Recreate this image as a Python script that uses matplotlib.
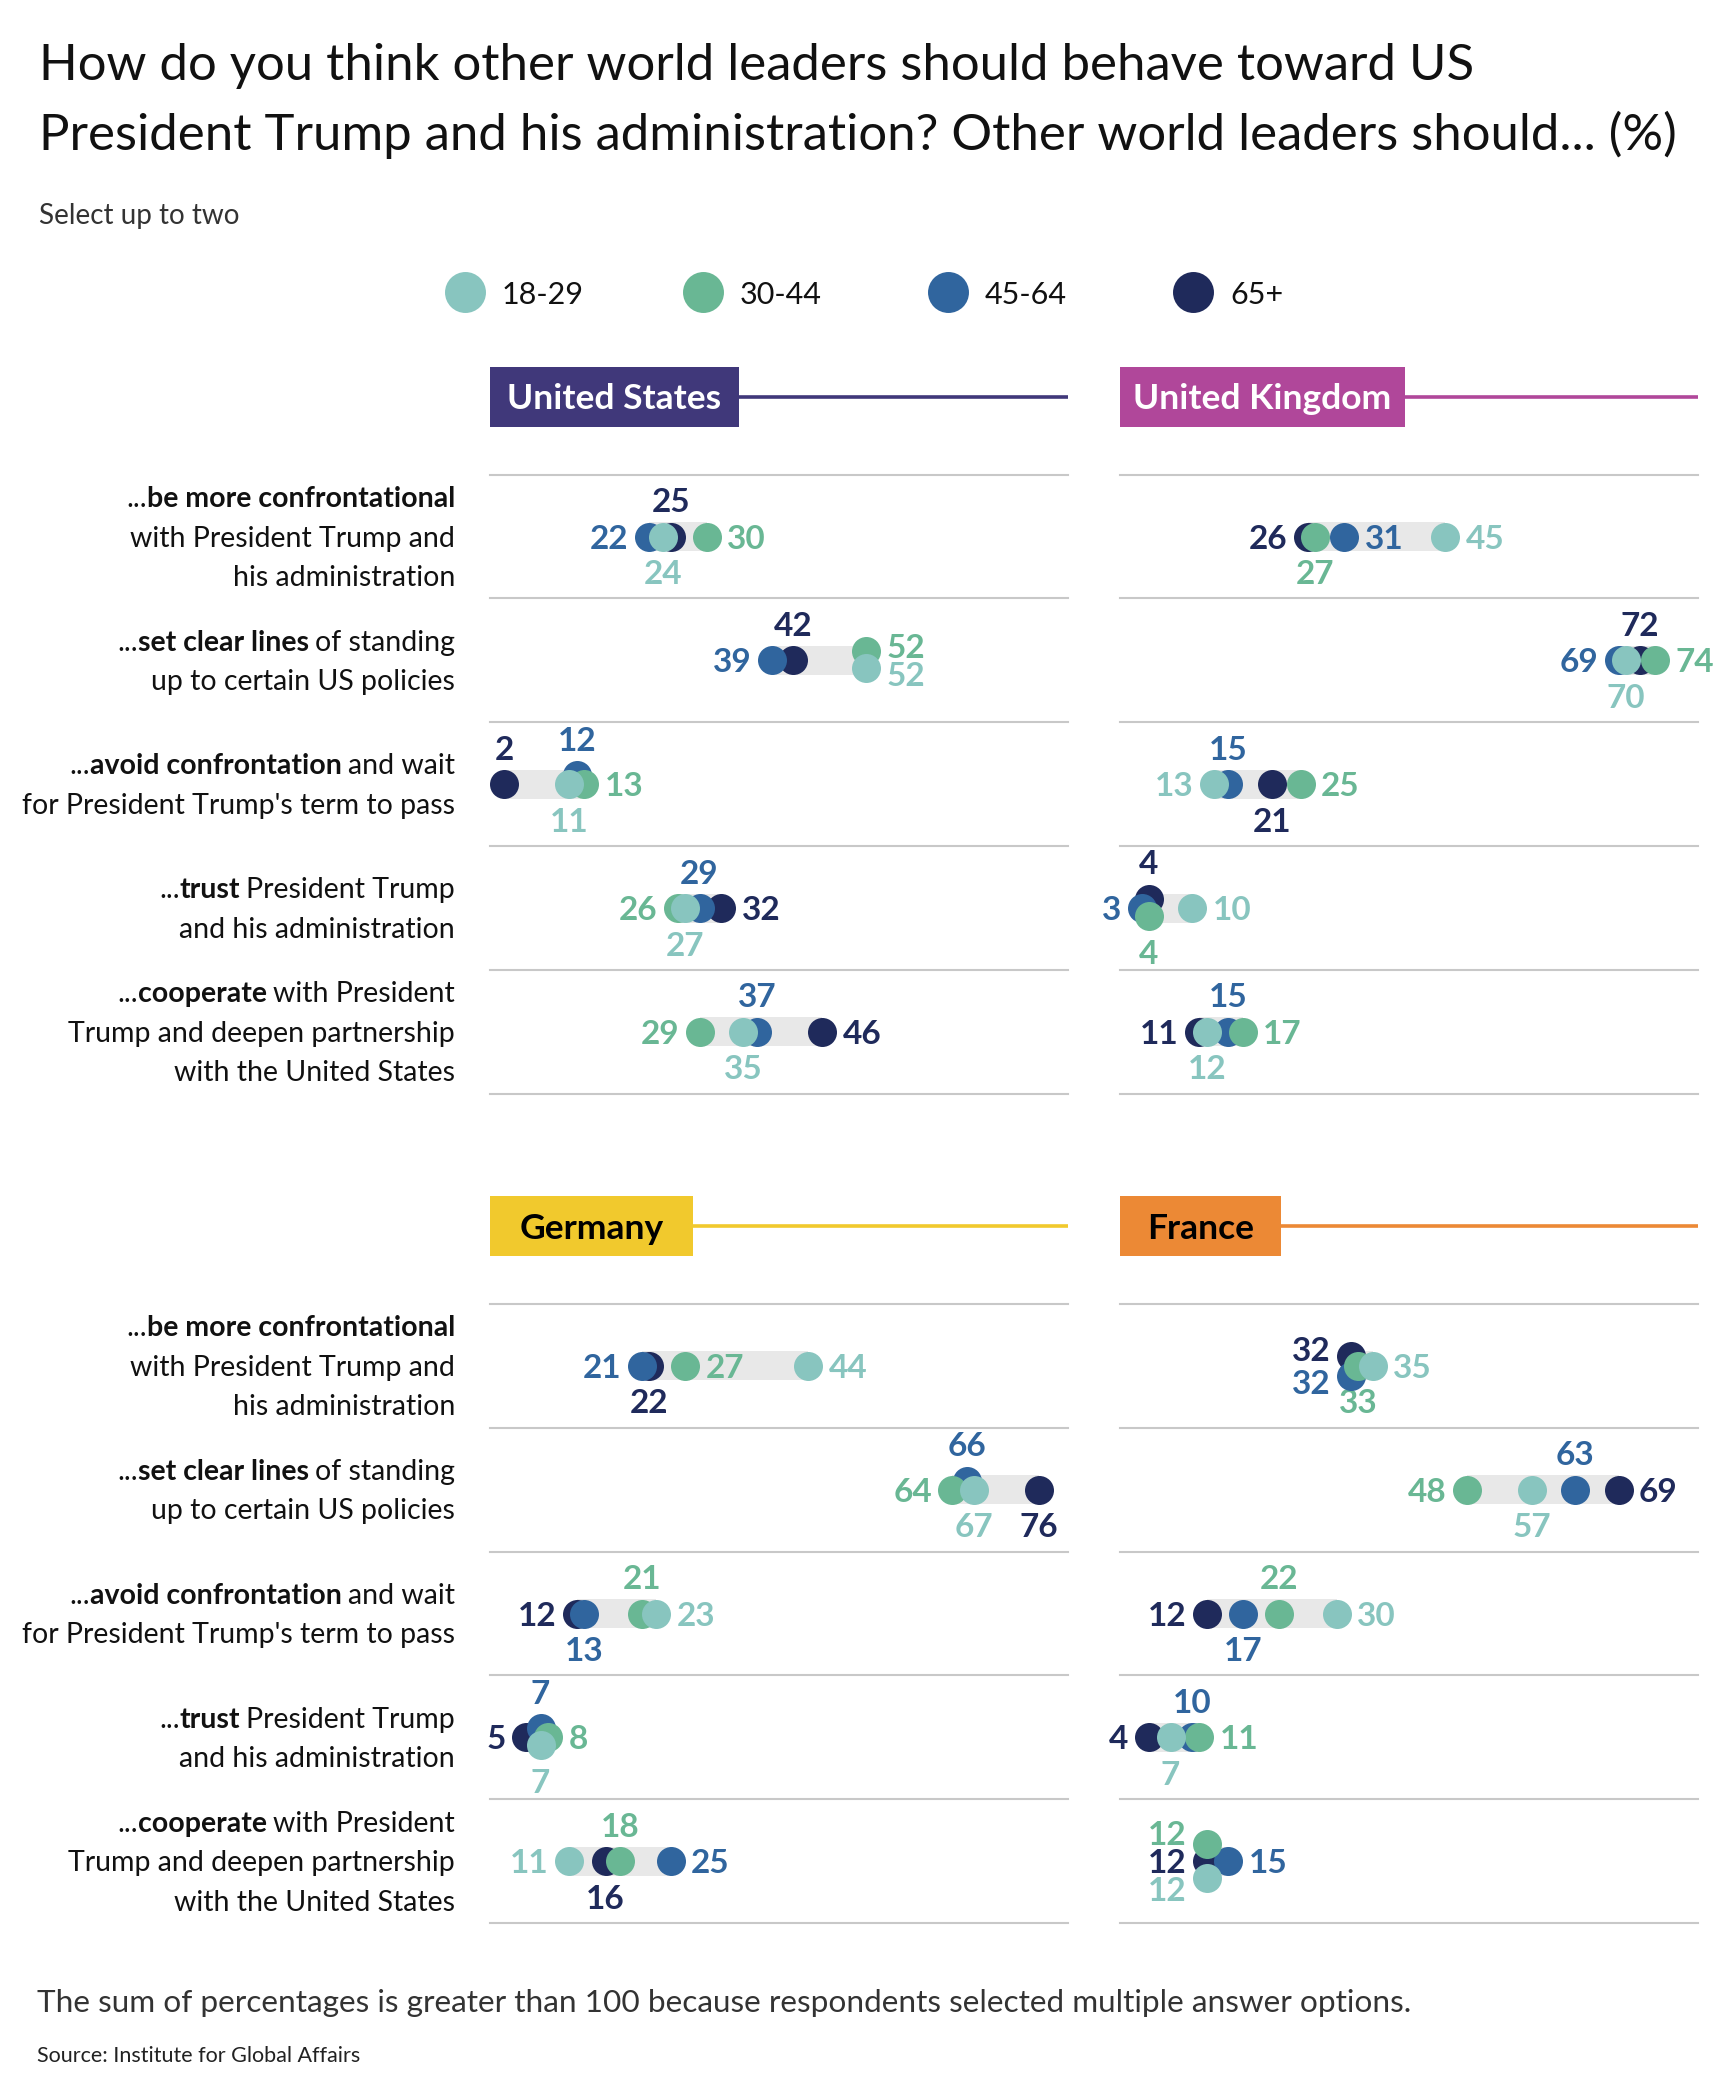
import matplotlib
matplotlib.use("Agg")
import matplotlib.pyplot as plt
from matplotlib.patches import Rectangle
from matplotlib.transforms import offset_copy

W, H = 1734, 2095
plt.rcParams["font.family"] = ["Lato", "DejaVu Sans"]

TITLE = [
    "How do you think other world leaders should behave toward US",
    "President Trump and his administration? Other world leaders should... (%)",
]
SUBTITLE = "Select up to two"
NOTE = "The sum of percentages is greater than 100 because respondents selected multiple answer options."
SOURCE = "Source: Institute for Global Affairs"

GROUPS = ["18-29", "30-44", "45-64", "65+"]
GROUP_COLORS = ["#88c5bf", "#69b794", "#30659e", "#1f2a5b"]

# statements, each line is a list of (text, bold)
STATEMENTS = [
    [[("...", False), ("be more confrontational", True)],
     [("with President Trump and", False)],
     [("his administration", False)]],
    [[("...", False), ("set clear lines", True), (" of standing", False)],
     [("up to certain US policies", False)]],
    [[("...", False), ("avoid confrontation", True), (" and wait", False)],
     [("for President Trump's term to pass", False)]],
    [[("...", False), ("trust", True), (" President Trump", False)],
     [("and his administration", False)]],
    [[("...", False), ("cooperate", True), (" with President", False)],
     [("Trump and deepen partnership", False)],
     [("with the United States", False)]],
]

# values per age group, in statement order
us = {"18-29": [24, 52, 11, 27, 35], "30-44": [30, 52, 13, 26, 29],
      "45-64": [22, 39, 12, 29, 37], "65+": [25, 42, 2, 32, 46]}
uk = {"18-29": [45, 70, 13, 10, 12], "30-44": [27, 74, 25, 4, 17],
      "45-64": [31, 69, 15, 3, 15], "65+": [26, 72, 21, 4, 11]}
germany = {"18-29": [44, 67, 23, 7, 11], "30-44": [27, 64, 21, 8, 18],
           "45-64": [21, 66, 13, 7, 25], "65+": [22, 76, 12, 5, 16]}
france = {"18-29": [35, 57, 30, 7, 12], "30-44": [33, 48, 22, 11, 12],
          "45-64": [32, 63, 17, 10, 15], "65+": [32, 69, 12, 4, 12]}

# label side per row, in GROUPS order (l, r, t, b)
LABEL_SIDES = {
    "United States": ["brlt", "rrlt", "brtt", "bltr", "bltr"],
    "United Kingdom": ["rbrl", "brlt", "lrtb", "rblt", "brtl"],
    "Germany": ["rrlb", "bltb", "rtbl", "brtl", "ltrb"],
    "France": ["rbll", "bltr", "rtbl", "brtl", "llrl"],
}
# vertical nudges of overlapping dots, pixels (down positive)
DOT_SHIFT = {
    ("United States", 1, "30-44"): -9, ("United States", 1, "18-29"): 8,
    ("United States", 2, "45-64"): -9,
    ("United Kingdom", 3, "65+"): -9, ("United Kingdom", 3, "30-44"): 8,
    ("Germany", 1, "45-64"): -9,
    ("Germany", 3, "45-64"): -9, ("Germany", 3, "18-29"): 8,
    ("France", 0, "65+"): -10, ("France", 0, "45-64"): 10,
    ("France", 4, "30-44"): -17, ("France", 4, "18-29"): 17,
}

# name, data, left x, top y, header colour, header text colour, box width
PANELS = [
    ("United States", us, 490, 474.7, "#40387a", "white", 249),
    ("United Kingdom", uk, 1120, 474.7, "#b0479a", "white", 285),
    ("Germany", germany, 490, 1304, "#f1c92d", "black", 203),
    ("France", france, 1120, 1304, "#ec8935", "black", 161),
]
PANEL_W = 578
ROW_H = 123.8
DOT_D = 29
NUM_SIZE = 24
LABEL_SIZE = 20.5
HEAD_SIZE = 25.5
BAND = "#e8e8e8"
GRID = "#c8c8c8"
TEXT = "#111111"

fig = plt.figure(figsize=(W / 100, H / 100), dpi=100)
bg = fig.add_axes([0, 0, 1, 1])
bg.set_xlim(0, W)
bg.set_ylim(H, 0)
bg.axis("off")
renderer = fig.canvas.get_renderer()


def fit_width(t, width):
    w = t.get_window_extent(renderer).width
    t.set_fontsize(t.get_fontsize() * width / w)
    return t.get_fontsize()


# title block
t2 = bg.text(39, 150, TITLE[1], fontsize=40, color=TEXT, va="baseline")
size = fit_width(t2, 1676 - 39)
bg.text(39, 80, TITLE[0], fontsize=size, color=TEXT, va="baseline")
sub = bg.text(39, 224, SUBTITLE, fontsize=18, color="#333333", va="baseline")
fit_width(sub, 200)

# legend
for x, g, c in zip([465, 703, 948, 1193], GROUPS, GROUP_COLORS):
    bg.scatter([x], [292], s=870, color=c, linewidths=0)
    bg.text(x + 37, 292 + 12, g, fontsize=22, color=TEXT, va="baseline")


def label_line(x, y, segments):
    prev = None
    gap = 0
    for text, bold in reversed(segments):
        weight = "bold" if bold else "normal"
        if prev is None:
            prev = bg.text(x, y, text.strip(), fontsize=LABEL_SIZE, fontweight=weight,
                           color=TEXT, ha="right", va="baseline")
        else:
            prev = bg.annotate(text.strip(), xy=(0, 0), xycoords=prev, xytext=(-gap, 0),
                               textcoords="offset pixels", fontsize=LABEL_SIZE,
                               fontweight=weight, color=TEXT, ha="right", va="bottom")
        gap = LABEL_SIZE * 0.3 if text.startswith(" ") else 0


R = DOT_D / 2
cap = NUM_SIZE * 100 / 72 * 0.72
OFFSETS = {
    "l": ((-(R + 6), -cap / 2), "right"),
    "r": ((R + 6, -cap / 2), "left"),
    "t": ((0, R + 10), "center"),
    "b": ((0, -(R + 9 + cap)), "center"),
}

for name, vals, x0, y0, hcol, tcol, bw in PANELS:
    # header
    hy = y0 - 108
    bg.add_patch(Rectangle((x0, hy), bw, 60, color=hcol, lw=0))
    bg.plot([x0 + bw, x0 + PANEL_W], [hy + 30, hy + 30], color=hcol, lw=2.6,
            solid_capstyle="butt")
    bg.text(x0 + bw / 2, hy + 30 + HEAD_SIZE * 0.5, name, fontsize=HEAD_SIZE,
            fontweight="bold", color=tcol, ha="center", va="baseline")

    # statement labels, only on the left column
    if x0 < 800:
        for i, lines in enumerate(STATEMENTS):
            cy = y0 + ROW_H * (i + 0.5)
            n = len(lines)
            for k, segs in enumerate(lines):
                label_line(455, cy + 10 + (k - (n - 1) / 2) * 39.5, segs)

    ax = fig.add_axes([x0 / W, 1 - (y0 + 5 * ROW_H) / H, PANEL_W / W, 5 * ROW_H / H])
    ax.set_xlim(0, 80)
    ax.set_ylim(4.5, -0.5)
    ax.axis("off")
    for b in range(6):
        ax.axhline(b - 0.5, color=GRID, lw=1.5, clip_on=False, zorder=1)

    for i in range(5):
        row = [vals[g][i] for g in GROUPS]
        lo, hi = min(row), max(row)
        ax.barh(i, hi - lo, left=lo, height=DOT_D / ROW_H, color=BAND, lw=0, zorder=2)
        sides = LABEL_SIDES[name][i]
        for k in reversed(range(4)):
            g = GROUPS[k]
            v = vals[g][i]
            side = sides[k]
            dy = DOT_SHIFT.get((name, i, g), 0)
            tr = offset_copy(ax.transData, fig=fig, x=0, y=-dy, units="dots")
            ax.scatter([v], [i], s=(DOT_D * 0.72) ** 2, color=GROUP_COLORS[k],
                       linewidths=0, transform=tr, zorder=6 - k, clip_on=False)
            (ox, oy), ha = OFFSETS[side]
            if side in "lr":
                oy -= dy * 0.65  # spread side labels of stacked dots a bit more
            ax.annotate(str(v), xy=(v, i), xycoords=tr, xytext=(ox, oy),
                        textcoords="offset pixels", ha=ha, va="baseline",
                        fontsize=NUM_SIZE, fontweight="bold", color=GROUP_COLORS[k],
                        annotation_clip=False)

note = bg.text(37, 2012, NOTE, fontsize=20, color="#333333", va="baseline")
fit_width(note, 1374)
src = bg.text(37, 2062, SOURCE, fontsize=14, color="#222222", va="baseline")
fit_width(src, 324)

fig.savefig("out.png", dpi=100)
